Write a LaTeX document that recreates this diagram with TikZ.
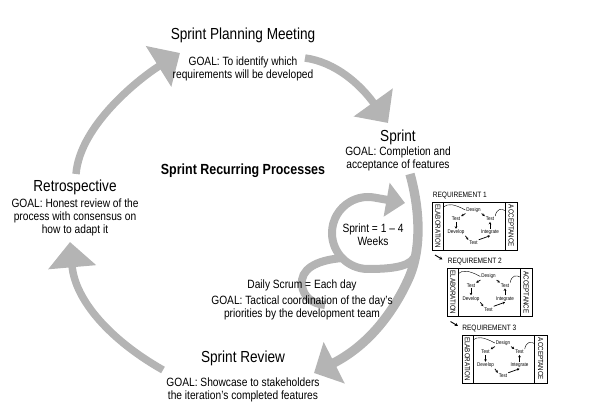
\documentclass[tikz,border=0pt]{standalone}
\usepackage{fontspec}
\setmainfont[FakeStretch=0.85]{Liberation Sans}
\usetikzlibrary{arrows.meta}
\definecolor{agray}{RGB}{180,180,180}
\begin{document}
\begin{tikzpicture}[x=0.75pt,y=-0.75pt,
  bigarrow/.style={draw=agray, line width=5.6pt, -{Triangle[width=35pt,length=19pt]}},
  midarrow/.style={draw=agray, line width=7pt, -{Triangle[width=34pt,length=17pt]}},
  looparrow/.style={draw=agray, line width=6pt, -{Triangle[width=25pt,length=14pt]}},
  hookline/.style={draw=agray, line width=6pt},
  title/.style={font=\fontsize{12}{14}\selectfont, inner sep=0pt},
  goal/.style={font=\fontsize{9}{9.75}\selectfont, align=center, inner sep=0pt},
  heading/.style={font=\fontsize{11}{13}\selectfont\bfseries, inner sep=0pt},
  reqlabel/.style={font=\fontsize{5.8}{6}\selectfont, inner sep=0pt},
  striptext/.style={font=\fontsize{5.5}{6}\selectfont, inner sep=0pt},
  innertext/.style={font=\fontsize{4}{4.5}\selectfont, inner sep=0.6pt},
  boxline/.style={draw=black, line width=0.6pt},
  tinyarrow/.style={line width=0.55pt, -{Stealth[length=1.8pt,width=2pt]}},
  thincurve/.style={line width=0.3pt},
  linkarrow/.style={line width=0.7pt, -{Stealth[length=2.4pt,width=2.6pt]}}
]
\useasboundingbox (0,0) rectangle (594,417);

% free ends of the big cycle arrows
\coordinate (a1s) at (76,174);   \coordinate (a1e) at (180,53);
\coordinate (a2s) at (305,58);   \coordinate (a2e) at (388,123);
\coordinate (a3s) at (410,174);  \coordinate (a3m) at (408,280);  \coordinate (a3e) at (314,373);
\coordinate (a4s) at (163,370);  \coordinate (a4e) at (70,242);
\coordinate (ls) at (414,258);   \coordinate (lb) at (368,269);   \coordinate (le) at (405,203);
\coordinate (hs) at (343,258);   \coordinate (hm) at (302,285);   \coordinate (he) at (325,305);

% big cycle arrows
\draw[bigarrow] (a1s) .. controls (80,125) and (140,78) .. (a1e);
\draw[bigarrow] (a2s) .. controls (335,62) and (360,84) .. (a2e);
\draw[midarrow] (a3s) .. controls (420,210) and (422,250) .. (a3m)
                      .. controls (398,302) and (375,342) .. (a3e);
\draw[bigarrow] (a4s) .. controls (110,340) and (75,300) .. (a4e);

% sprint loop and daily scrum hook
\draw[looparrow] (ls) .. controls (408,268) and (385,269) .. (lb)
   arc[start angle=90, end angle=280, radius=36] -- (le);
\draw[hookline] (hs) .. controls (315,260) and (300,270) .. (hm)
   .. controls (303,297) and (313,304) .. (he);

% texts
\node[title] (plan) at (243,35) {Sprint Planning Meeting};
\node[goal] (plang) at (243,68.5) {GOAL: To identify which\\requirements will be developed};
\node[title] (sprint) at (398,137) {Sprint};
\node[goal] (sprintg) at (398,158.5) {GOAL: Completion and\\acceptance of features};
\node[heading] (recur) at (243,171) {Sprint Recurring Processes};
\node[title] (retro) at (75,187) {Retrospective};
\node[goal] (retrog) at (75,217) {GOAL: Honest review of the\\process with consensus on\\how to adapt it};
\node[goal] (weeks) at (373,235) {Sprint = 1 – 4\\Weeks};
\node[goal] (daily) at (302,285) {Daily Scrum = Each day};
\node[goal] (dailyg) at (302,307.5) {GOAL: Tactical coordination of the day’s\\priorities by the development team};
\node[title] (review) at (243,358) {Sprint Review};
\node[goal] (reviewg) at (243,390) {GOAL: Showcase to stakeholders\\the iteration’s completed features};

% requirement boxes
\foreach \i/\bx/\by in {1/432.5/202, 2/447.5/268.5, 3/462/335} {
  \begin{scope}[shift={(\bx,\by)}]
    \node[reqlabel, anchor=west] (rl\i) at (0,-6.5) {REQUIREMENT \i};
    \draw[boxline] (0,0) rectangle (85,48);
    \draw[boxline] (11,0) -- (11,48) (72.5,0) -- (72.5,48);
    \node[striptext, rotate=-90] (el\i) at (5.5,24) {ELABORATION};
    \node[striptext, rotate=-90] (ac\i) at (78.75,24) {ACCEPTANCE};
    \node[innertext] (de\i) at (41,8) {Design};
    \node[innertext] (tl\i) at (23.5,17) {Test};
    \node[innertext] (tr\i) at (57.5,17) {Test};
    \node[innertext] (dv\i) at (23.5,30.3) {Develop};
    \node[innertext] (in\i) at (57.5,30.3) {Integrate};
    \node[innertext] (tb\i) at (41,40.7) {Test};
    \draw[tinyarrow] (de\i.south west) -- (tl\i.north east);
    \draw[tinyarrow] (tl\i) -- (dv\i);
    \draw[tinyarrow] (dv\i.south east) -- (tb\i.north west);
    \draw[tinyarrow] (tb\i.north east) -- (in\i.south);
    \draw[tinyarrow] (in\i) -- (tr\i);
    \draw[tinyarrow] (de\i.south east) -- (tr\i.north west);
    \draw[thincurve] (11,5) .. controls (15,1.5) and (21,1.5) .. (de\i.west);
    \draw[thincurve] (tr\i.north east) .. controls (64,6.5) and (69,6.5) .. (72.5,8.5);
  \end{scope}
}
\coordinate (k1s) at (435,255); \coordinate (k1e) at (442.5,259.5);
\coordinate (k2s) at (450.5,321.5); \coordinate (k2e) at (458,326);
\draw[linkarrow] (k1s) -- (k1e);
\draw[linkarrow] (k2s) -- (k2e);
\end{tikzpicture}
\end{document}
